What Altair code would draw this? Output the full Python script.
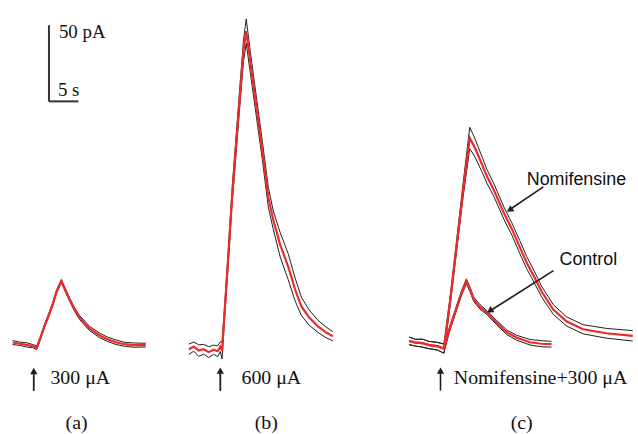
import altair as alt
import pandas as pd

# ---------------- data (time in s relative to stimulus, current in pA) ----------------
# Panel (a): 300 uA
a_t = [-4.10, -2.87, -1.52, -0.67, 0.00, 0.67, 1.35, 2.02, 2.70, 3.37, 4.17, 4.89, 5.56, 6.41,
       7.25, 8.94, 10.62, 11.97, 13.44, 14.84, 16.53, 18.50]
a_mean = [2.4, 1.6, 0.7, 0.0, -1.0, 5.9, 13.7, 20.2, 27.4, 35.9, 42.7, 36.5, 30.7, 24.1,
          18.9, 11.7, 7.2, 4.6, 2.6, 1.3, 0.7, 0.7]
a_sem = [1.3, 1.1, 1.4, 1.0, 1.2, 1.0, 0.9, 1.1, 1.0, 0.9, 1.0, 1.1, 1.0, 1.2,
         1.3, 1.4, 1.5, 1.4, 1.5, 1.3, 1.4, 1.2]

# Panel (b): 600 uA
b_t = [-5.56, -4.72, -3.88, -3.04, -2.19, -1.35, -0.67, -0.22, 0.08, 0.51, 1.10, 1.74, 2.36, 3.04,
       3.71, 4.18, 4.89, 5.90, 6.91, 7.93, 8.77, 9.95, 11.30, 12.48, 13.54, 14.84, 16.36, 17.71, 18.89]
b_mean = [-2.0, -0.3, -2.9, -2.0, -3.9, -2.3, -3.3, -0.3, -2.9, 22.2, 56.8, 95.9, 127.2, 161.1,
          193.7, 206.8, 185.9, 157.2, 128.5, 97.8, 82.8, 66.5, 52.2, 37.2, 26.1, 18.9, 13.0, 9.1, 6.5]
b_sem = [3.4, 3.0, 3.8, 3.2, 3.6, 3.0, 3.5, 3.2, 5.5, 4.0, 4.5, 5.0, 5.5, 6.0,
         7.0, 8.0, 7.0, 6.5, 6.0, 6.5, 6.0, 8.0, 8.5, 7.5, 6.0, 5.0, 4.0, 3.5, 3.0]

# Panel (c): shared pre-stimulus baseline
c_base_t = [-5.78, -4.72, -3.54, -2.36, -1.01, 0.12]
c_base_mean = [3.5, 2.3, 2.0, 0.7, 0.0, -1.6]
c_base_sem = [2.5, 2.2, 2.6, 2.4, 2.5, 3.0]

# Panel (c): Nomifensine after stimulus
nomi_t = [1.23, 2.31, 3.37, 4.50, 5.40, 6.58, 7.42, 8.60, 10.29, 11.64, 12.98, 14.17, 15.51,
          16.69, 18.67, 20.91, 23.73, 27.66, 32.16]
nomi_mean = [31.3, 67.2, 102.1, 136.7, 130.1, 119.4, 111.5, 102.4, 87.4, 77.0, 65.2, 54.8, 45.0,
             35.9, 24.1, 16.3, 11.1, 8.5, 6.8]
nomi_sem = [3.0, 3.5, 4.5, 7.0, 6.0, 5.0, 4.5, 4.2, 4.0, 4.0, 4.2, 4.0, 3.8,
            3.5, 3.2, 3.0, 3.0, 3.2, 3.4]

# Panel (c): Control after stimulus
ctrl_t = [1.01, 2.02, 3.04, 3.93, 4.55, 5.18, 6.24, 7.42, 9.11, 10.79, 12.48, 14.72, 16.69, 18.38]
ctrl_mean = [10.4, 22.2, 34.2, 42.6, 37.2, 30.7, 25.8, 22.0, 15.3, 9.1, 5.5, 2.6, 1.6, 1.3]
ctrl_sem = [1.5, 1.4, 1.5, 1.6, 1.5, 1.4, 1.5, 1.3, 1.4, 1.5, 1.6, 1.8, 2.0, 1.9]

# text labels
stim_labels = ["300 μA", "600 μA", "Nomifensine+300 μA"]
panel_labels = ["(a)", "(b)", "(c)"]
scale_labels = ["50 pA", "5 s"]
trace_labels = ["Nomifensine", "Control"]

# ---------------- styling / layout ----------------
RED = "#ee2a2a"
BLACK = "#1e1e1e"
SERIF = "Liberation Serif"
SANS = "Liberation Sans"
YDOM = [-56.75, 226.35]
H = 434
PANELS = [  # x domain (s), width (px)
    ([-6.24, 21.59], 165),
    ([-9.78, 29.01], 230),
    ([-8.60, 32.38], 243),
]


def trace_df(t, mean, sem, name):
    recs = []
    for i, (ti, m, s) in enumerate(zip(t, mean, sem)):
        recs.append({"t": ti, "I": m, "band": "mean", "trace": name, "k": i})
        recs.append({"t": ti, "I": m + s, "band": "upper", "trace": name, "k": i})
        recs.append({"t": ti, "I": m - s, "band": "lower", "trace": name, "k": i})
    return pd.DataFrame(recs)


def enc_xy(xdom, xf="t", yf="I"):
    return dict(
        x=alt.X(f"{xf}:Q", scale=alt.Scale(domain=xdom, nice=False, zero=False), axis=None),
        y=alt.Y(f"{yf}:Q", scale=alt.Scale(domain=YDOM, nice=False, zero=False), axis=None),
    )


def traces_layer(df, xdom):
    base = alt.Chart(df).encode(order="k:Q", **enc_xy(xdom))
    env = base.transform_filter(alt.datum.band != "mean").mark_line(
        color=BLACK, strokeWidth=1).encode(detail=["trace:N", "band:N"])
    mean = base.transform_filter(alt.datum.band == "mean").mark_line(
        color=RED, strokeWidth=2.2).encode(detail="trace:N")
    return [env, mean]


def arrow_layers(xdom, shafts, heads, width=1.8):
    sd = pd.DataFrame(shafts, columns=["t", "I", "t2", "I2"])
    hd = pd.DataFrame(heads, columns=["t", "I", "ang"])
    e = enc_xy(xdom)
    shaft = alt.Chart(sd).mark_rule(color=BLACK, strokeWidth=width).encode(
        x2="t2:Q", y2="I2:Q", **e)
    head = alt.Chart(hd).mark_point(shape="triangle-up", filled=True, color=BLACK,
                                    size=55, opacity=1).encode(
        angle=alt.Angle("ang:Q", scale=None), **e)
    return [shaft, head]


def text_layer(xdom, rows, align, baseline, font, size):
    d = pd.DataFrame(rows, columns=["t", "I", "label"])
    return alt.Chart(d).mark_text(align=align, baseline=baseline, font=font,
                                  fontSize=size, color="#111").encode(
        text="label:N", **enc_xy(xdom))


# ---------------- panel (a) ----------------
xa, wa = PANELS[0]
layers_a = traces_layer(trace_df(a_t, a_mean, a_sem, "a"), xa)
# scale bar
sb = pd.DataFrame([[2.07, 210.7, 2.07, 160.7], [2.07, 160.7, 7.07, 160.7]],
                  columns=["t", "I", "t2", "I2"])
layers_a.append(alt.Chart(sb).mark_rule(color="#333", strokeWidth=2).encode(
    x2="t2:Q", y2="I2:Q", **enc_xy(xa)))
layers_a.append(text_layer(xa, [[3.76, 206.1, scale_labels[0]], [3.59, 168.3, scale_labels[1]]],
                           "left", "middle", SERIF, 19))
layers_a += arrow_layers(xa, [[-0.51, -29.4, -0.51, -16.0]], [[-0.51, -16.3, 0]])
layers_a.append(text_layer(xa, [[2.31, -24.8, stim_labels[0]]], "left", "alphabetic", SERIF, 20))
layers_a.append(text_layer(xa, [[6.75, -50.2, panel_labels[0]]], "center", "middle", SERIF, 20))
pa = alt.layer(*layers_a).properties(width=wa, height=H)

# ---------------- panel (b) ----------------
xb, wb = PANELS[1]
layers_b = traces_layer(trace_df(b_t, b_mean, b_sem, "b"), xb)
layers_b += arrow_layers(xb, [[-0.22, -29.4, -0.22, -16.0]], [[-0.22, -16.0, 0]])
layers_b.append(text_layer(xb, [[3.37, -24.8, stim_labels[1]]], "left", "alphabetic", SERIF, 20))
layers_b.append(text_layer(xb, [[7.59, -50.2, panel_labels[1]]], "center", "middle", SERIF, 20))
pb = alt.layer(*layers_b).properties(width=wb, height=H)

# ---------------- panel (c) ----------------
xc, wc = PANELS[2]
df_c = pd.concat([
    trace_df(c_base_t + nomi_t, c_base_mean + nomi_mean, c_base_sem + nomi_sem, "nomi"),
    trace_df(c_base_t + ctrl_t, c_base_mean + ctrl_mean, c_base_sem + ctrl_sem, "ctrl"),
], ignore_index=True)
layers_c = traces_layer(df_c, xc)
layers_c += arrow_layers(
    xc,
    [[-0.46, -29.2, -0.46, -16.0], [16.98, 104.6, 11.0, 88.9], [18.72, 49.6, 7.7, 22.6]],
    [[-0.46, -16.0, 0], [11.28, 89.4, 236], [7.91, 23.2, 237]],
    width=1.6,
)
layers_c.append(text_layer(xc, [[1.80, -24.8, stim_labels[2]]], "left", "alphabetic", SERIF, 20))
layers_c.append(text_layer(xc, [[13.32, -50.2, panel_labels[2]]], "center", "middle", SERIF, 20))
layers_c.append(text_layer(xc, [[14.17, 108.9, trace_labels[0]], [19.73, 56.8, trace_labels[1]]],
                           "left", "middle", SANS, 18))
pc = alt.layer(*layers_c).properties(width=wc, height=H)

chart = alt.hconcat(pa, pb, pc, spacing=0, bounds="flush").properties(
    padding=0, background="white").configure_view(stroke=None)

chart.save("out.html", embed_options={"renderer": "svg", "actions": False})
